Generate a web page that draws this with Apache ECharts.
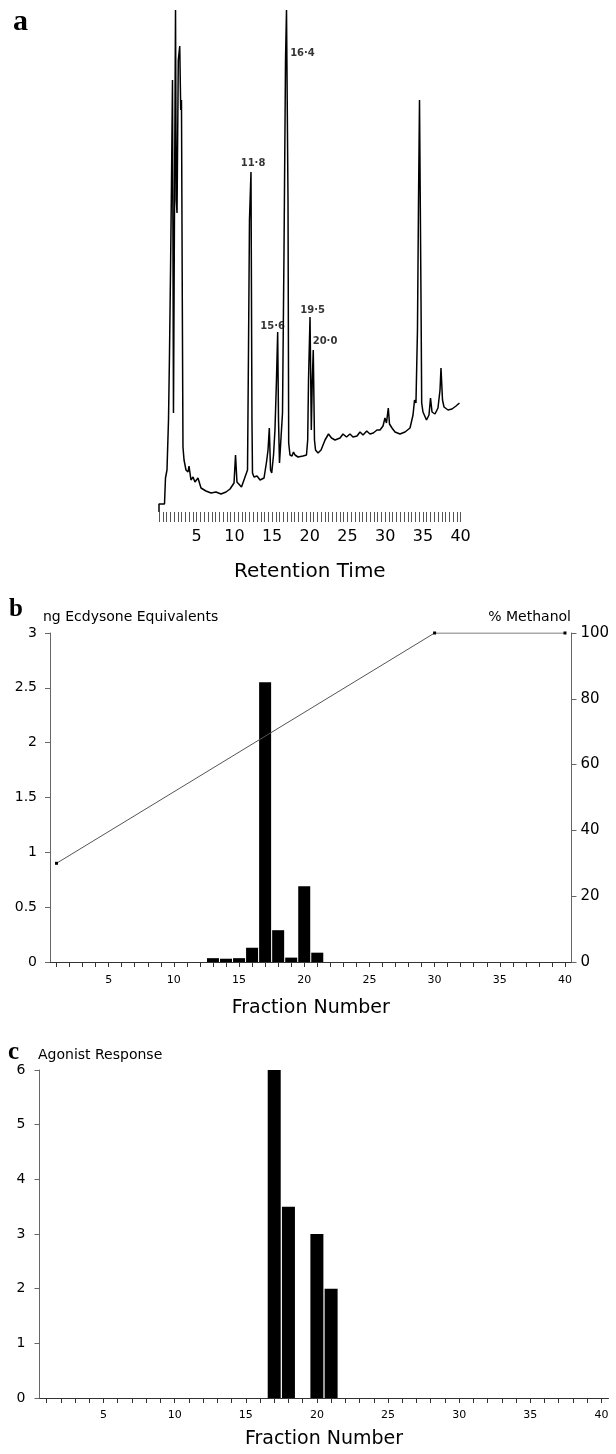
<!DOCTYPE html>
<html>
<head>
<meta charset="utf-8">
<script src="https://cdn.jsdelivr.net/npm/echarts@6/dist/echarts.min.js"></script>
<style>
  html, body { margin: 0; padding: 0; background: #fff; }
  #main { width: 616px; height: 1454px; }
</style>
</head>
<body>
<div id="main"></div>
<script>
// panel a: chromatogram trace (retention time, detector response in arbitrary units)
var retentionTime = [
  0, 0, 0.73, 0.86, 1.06, 1.26, 1.39, 1.53, 1.66, 1.79, 1.92, 2.06, 2.19, 2.29, 2.39, 2.56, 2.75, 2.88, 2.98, 3.09,
  3.18, 3.32, 3.58, 3.85, 3.98, 4.24, 4.51, 4.77, 5.17, 5.57, 6.23, 6.90, 7.56, 8.22, 8.89, 9.42, 9.95, 10.15, 10.34, 10.94,
  11.41, 11.74, 11.87, 12.00, 12.20, 12.33, 12.40, 12.60, 13.00, 13.40, 13.93, 14.26, 14.46, 14.63, 14.79, 14.95, 15.19, 15.38, 15.58, 15.74,
  15.85, 15.98, 16.14, 16.38, 16.58, 16.78, 16.91, 17.04, 17.11, 17.20, 17.37, 17.64, 17.84, 18.04, 18.44, 19.10, 19.56, 19.72, 19.83, 20.03,
  20.20, 20.33, 20.46, 20.62, 20.76, 21.09, 21.49, 22.02, 22.48, 22.88, 23.34, 24.01, 24.40, 24.87, 25.33, 25.73, 26.26, 26.66, 27.06, 27.55,
  27.98, 28.42, 28.91, 29.31, 29.71, 29.97, 30.17, 30.41, 30.57, 30.90, 31.30, 31.96, 32.63, 33.29, 33.69, 33.89, 34.08, 34.28, 34.42, 34.55,
  34.66, 34.75, 34.84, 35.01, 35.48, 35.81, 36.01, 36.21, 36.60, 37.00, 37.27, 37.40, 37.60, 37.80, 38.33, 38.86, 39.39, 39.85
];
var detectorResponse = [
  0, 8, 8, 34, 42, 92, 157, 242, 332, 432, 99, 312, 502, 312, 299, 452, 466, 402, 412, 212,
  65, 52, 42, 40, 46, 32, 35, 30, 34, 24, 21, 19, 20, 18, 20, 23, 29, 57, 30, 25,
  35, 42, 162, 292, 340, 92, 39, 35, 36, 32, 34, 50, 62, 84, 42, 39, 57, 82, 132, 180,
  92, 49, 47, 99, 262, 452, 502, 502, 312, 69, 57, 56, 60, 57, 55, 56, 57, 72, 132, 195,
  82, 132, 162, 72, 62, 59, 62, 72, 78, 74, 72, 74, 78, 75, 78, 75, 76, 80, 77, 81,
  78, 79, 82, 82, 86, 94, 89, 104, 88, 84, 80, 78, 80, 84, 97, 112, 109, 182, 312, 412,
  412, 212, 109, 100, 92, 97, 114, 100, 98, 104, 122, 144, 112, 105, 102, 103, 106, 109
];
var peakLabels = ['11·8', '15·6', '16·4', '19·5', '20·0'];
var peakLabelTime = [12.47, 15.08, 19.03, 20.38, 22.02];
var peakLabelResponse = [349, 186, 459, 202, 171];
var retentionLabels = [5, 10, 15, 20, 25, 30, 35, 40];

// panels b and c: HPLC fractions 1..40
var fractions = [];
for (var i = 1; i <= 40; i++) fractions.push(String(i));
var fractionLabels = [5, 10, 15, 20, 25, 30, 35, 40];

var ecdysoneEq = [
  0, 0, 0, 0, 0, 0, 0, 0, 0, 0,
  0, 0, 0.035, 0.03, 0.035, 0.13, 2.55, 0.29, 0.04, 0.69,
  0.085, 0, 0, 0, 0, 0, 0, 0, 0, 0,
  0, 0, 0, 0, 0, 0, 0, 0, 0, 0
];
var methanolFraction = [1, 30, 40];
var methanolPct = [30, 100, 100];

var agonistResponse = [
  0, 0, 0, 0, 0, 0, 0, 0, 0, 0,
  0, 0, 0, 0, 0, 0, 6, 3.5, 0, 3,
  2, 0, 0, 0, 0, 0, 0, 0, 0, 0,
  0, 0, 0, 0, 0, 0, 0, 0, 0, 0
];

var FONT = 'DejaVu Sans';

var trace = retentionTime.map(function (t, k) { return [t, detectorResponse[k]]; });
var peakPts = peakLabels.map(function (n, k) {
  return { name: n, value: [peakLabelTime[k], peakLabelResponse[k]] };
});
var methanol = methanolFraction.map(function (f, k) { return [String(f), methanolPct[k]]; });

function fractionLabelShown(idx) {
  return fractionLabels.indexOf(idx + 1) >= 0;
}

var myChart = echarts.init(document.getElementById('main'));

var option = {
  animation: false,
  backgroundColor: '#fff',
  title: [
    { text: 'a', left: 13, top: 7, padding: 0, textStyle: { fontFamily: 'Liberation Serif', fontWeight: 'bold', fontSize: 30, color: '#000' } },
    { text: 'b', left: 9, top: 597, padding: 0, textStyle: { fontFamily: 'Liberation Serif', fontWeight: 'bold', fontSize: 25, color: '#000' } },
    { text: 'ng Ecdysone Equivalents', left: 43, top: 610, padding: 0, textStyle: { fontFamily: FONT, fontWeight: 'normal', fontSize: 14, color: '#000' } },
    { text: '% Methanol', right: 45, top: 610, padding: 0, textStyle: { fontFamily: FONT, fontWeight: 'normal', fontSize: 14, color: '#000' } },
    { text: 'c', left: 8, top: 1040, padding: 0, textStyle: { fontFamily: 'Liberation Serif', fontWeight: 'bold', fontSize: 25, color: '#000' } },
    { text: 'Agonist Response', left: 38, top: 1048, padding: 0, textStyle: { fontFamily: FONT, fontWeight: 'normal', fontSize: 14, color: '#000' } }
  ],
  grid: [
    { left: 159, top: 10, width: 301.6, height: 502 },
    { left: 50, top: 633, width: 521.5, height: 329 },
    { left: 39.5, top: 1070, width: 569, height: 328 }
  ],
  xAxis: [
    {
      gridIndex: 0, type: 'value', min: 0, max: 40, interval: 0.5,
      axisLine: { show: false },
      axisTick: { show: true, length: 10, lineStyle: { color: '#555', width: 1 } },
      splitLine: { show: false },
      axisLabel: {
        margin: 17, fontFamily: FONT, fontSize: 16, color: '#000',
        formatter: function (v) { return retentionLabels.indexOf(v) >= 0 ? String(v) : ''; }
      },
      name: 'Retention Time', nameLocation: 'middle', nameGap: 50,
      nameTextStyle: { fontFamily: FONT, fontSize: 20, color: '#000' }
    },
    {
      gridIndex: 1, type: 'category', data: fractions, boundaryGap: true,
      axisLine: { show: true, lineStyle: { color: '#333', width: 1 } },
      axisTick: { show: true, alignWithLabel: true, interval: 0, length: 5, lineStyle: { color: '#333' } },
      axisLabel: { interval: function (idx) { return fractionLabelShown(idx); }, margin: 13, fontFamily: FONT, fontSize: 11, color: '#000' },
      name: 'Fraction Number', nameLocation: 'middle', nameGap: 37,
      nameTextStyle: { fontFamily: FONT, fontSize: 19, color: '#000' }
    },
    {
      gridIndex: 2, type: 'category', data: fractions, boundaryGap: true,
      axisLine: { show: true, lineStyle: { color: '#333', width: 1 } },
      axisTick: { show: true, alignWithLabel: true, interval: 0, length: 5, lineStyle: { color: '#333' } },
      axisLabel: { interval: function (idx) { return fractionLabelShown(idx); }, margin: 12, fontFamily: FONT, fontSize: 11, color: '#000' },
      name: 'Fraction Number', nameLocation: 'middle', nameGap: 32,
      nameTextStyle: { fontFamily: FONT, fontSize: 19, color: '#000' }
    }
  ],
  yAxis: [
    { gridIndex: 0, type: 'value', min: 0, max: 502, show: false },
    {
      gridIndex: 1, type: 'value', min: 0, max: 3, interval: 0.5, position: 'left',
      axisLine: { show: true, lineStyle: { color: '#666', width: 1 } },
      axisTick: { show: true, length: 5, lineStyle: { color: '#666' } },
      splitLine: { show: false },
      axisLabel: { margin: 13, fontFamily: FONT, fontSize: 14, color: '#000' }
    },
    {
      gridIndex: 1, type: 'value', min: 0, max: 100, interval: 20, position: 'right',
      axisLine: { show: true, lineStyle: { color: '#666', width: 1 } },
      axisTick: { show: true, length: 5, lineStyle: { color: '#666' } },
      splitLine: { show: false },
      axisLabel: { margin: 9, fontFamily: FONT, fontSize: 15, color: '#000' }
    },
    {
      gridIndex: 2, type: 'value', min: 0, max: 6, interval: 1,
      axisLine: { show: true, lineStyle: { color: '#666', width: 1 } },
      axisTick: { show: true, length: 5, lineStyle: { color: '#666' } },
      splitLine: { show: false },
      axisLabel: { margin: 14, fontFamily: FONT, fontSize: 14, color: '#000' }
    }
  ],
  series: [
    {
      name: 'trace', type: 'line', xAxisIndex: 0, yAxisIndex: 0,
      data: trace, showSymbol: false, symbol: 'none', clip: true,
      lineStyle: { color: '#000', width: 1.5 }
    },
    {
      name: 'peaks', type: 'scatter', xAxisIndex: 0, yAxisIndex: 0,
      data: peakPts, symbolSize: 0,
      label: { show: true, position: 'inside', formatter: '{b}', fontFamily: FONT, fontWeight: 'bold', fontSize: 10, color: '#000' }
    },
    {
      name: 'ng Ecdysone Equivalents', type: 'bar', xAxisIndex: 1, yAxisIndex: 1,
      data: ecdysoneEq, barWidth: 12,
      itemStyle: { color: '#000' }
    },
    {
      name: '% Methanol', type: 'line', xAxisIndex: 1, yAxisIndex: 2,
      data: methanol, symbol: 'rect', symbolSize: 3,
      itemStyle: { color: '#000' },
      lineStyle: { color: '#555', width: 1 }
    },
    {
      name: 'Agonist Response', type: 'bar', xAxisIndex: 2, yAxisIndex: 3,
      data: agonistResponse, barWidth: 13,
      itemStyle: { color: '#000' }
    }
  ]
};

myChart.setOption(option);
</script>
</body>
</html>
